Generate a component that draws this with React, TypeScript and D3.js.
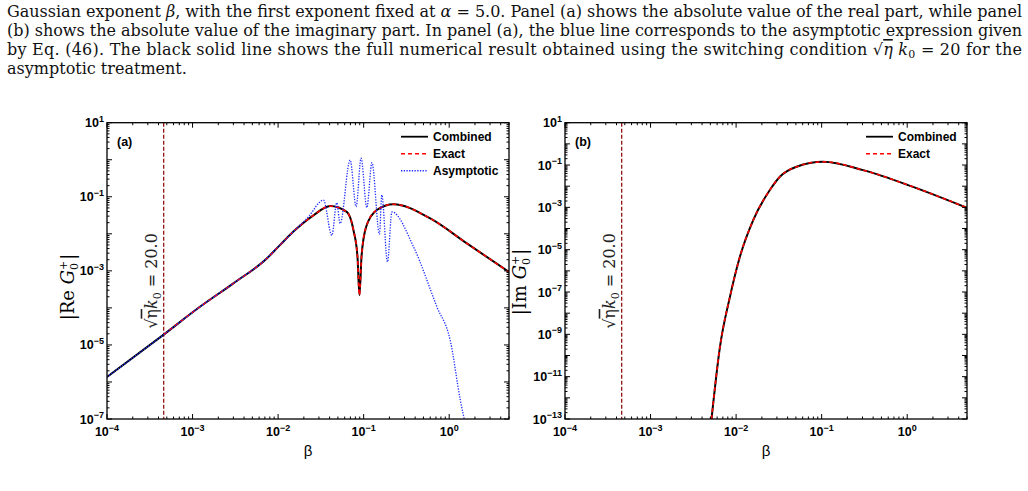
import React, { useEffect, useRef } from 'react';
import * as d3 from 'd3';

const W = 1028;
const H = 491;

// panel (a): |Re G0+| against beta
const betaRe = [1e-4, 4.6e-4, 1.22e-3, 3.0e-3, 7.38e-3, 1.05e-2, 1.51e-2, 2.59e-2, 4.07e-2, 6.35e-2, 7.6e-2, 8.47e-2, 8.93e-2, 9.44e-2, 0.107, 0.1426, 0.223, 0.6, 1.61, 5.0];
const reCombined = [1.36e-6, 1.9e-5, 1.07e-4, 4.6e-4, 2.16e-3, 4.95e-3, 1.15e-2, 3.16e-2, 5.6e-2, 3.9e-2, 1.26e-2, 2.4e-3, 2.2e-4, 2.4e-3, 1.55e-2, 4.4e-2, 6.3e-2, 2.6e-2, 5.5e-3, 9.3e-4];

const betaAsym = [1e-4, 4.6e-4, 1.22e-3, 3.0e-3, 7.38e-3, 1.05e-2, 1.51e-2, 2.24e-2, 3.39e-2, 4.25e-2, 4.85e-2, 5.31e-2, 6.95e-2, 8.17e-2, 9.33e-2, 0.109, 0.125, 0.153, 0.163, 0.19, 0.214, 0.382, 0.718, 1.03, 1.35, 1.6];
const reAsym = [1.36e-6, 1.9e-5, 1.07e-4, 4.6e-4, 2.16e-3, 4.95e-3, 1.15e-2, 2.8e-2, 8.1e-2, 9.1e-3, 6.9e-2, 1.9e-2, 0.98, 5.4e-2, 1.1, 5.1e-2, 0.83, 9.8e-3, 0.112, 1.74e-3, 3.9e-2, 4.5e-3, 1.07e-4, 1.3e-5, 3.2e-7, 5e-8];

// panel (b): |Im G0+| against beta
const betaIm = [5.16e-3, 6.47e-3, 8.47e-3, 1.107e-2, 1.585e-2, 2.48e-2, 3.25e-2, 5.09e-2, 0.104, 0.305, 1.17, 5.0];
const imCombined = [1e-13, 2.5e-10, 5.9e-8, 4.6e-6, 2.5e-4, 6.6e-3, 2.8e-2, 8.3e-2, 0.143, 5.75e-2, 9.3e-3, 9.5e-4];

// switching point sqrt(eta) k0 = 20
const switchBeta = 4.6e-4;

const xTickExps = [-4, -3, -2, -1, 0];
const yTickExpsRe = [1, -1, -3, -5, -7];
const yTickExpsIm = [1, -1, -3, -5, -7, -9, -11, -13];

const captionLines = [
  [['Gaussian exponent ', ''], ['β', 'i'], [', with the first exponent fixed at ', ''], ['α', 'i'], [' = 5.0.  Panel (a) shows the absolute value of the real part, while panel', '']],
  [['(b) shows the absolute value of the imaginary part.  In panel (a), the blue line corresponds to the asymptotic expression given', '']],
  [['by Eq. (46).  The black solid line shows the full numerical result obtained using the switching condition ', ''], ['√', ''], ['η', 'o'], [' ', ''], ['k', 'i'], ['0', 's'], [' = 20 for the', 'u']],
  [['asymptotic treatment.', '']],
];

const SANS = '"Liberation Sans", Arial, sans-serif';
const SERIF = '"DejaVu Serif", "Liberation Serif", serif';

const zip = (xs: number[], ys: number[]) => xs.map((x, i) => [x, ys[i]] as [number, number]);

function drawPanel(svg: any, p: any) {
  const x = d3.scaleLog().domain([1e-4, 5]).range([p.left, p.right]);
  const y = d3.scaleLog().domain(p.yDomain).range([p.bottom, p.top]);

  svg.append('defs').append('clipPath').attr('id', 'clip-' + p.key)
    .append('rect')
    .attr('x', p.left).attr('y', p.top)
    .attr('width', p.right - p.left).attr('height', p.bottom - p.top);

  const g = svg.append('g');

  // switching condition marker
  g.append('line')
    .attr('x1', x(switchBeta)).attr('x2', x(switchBeta))
    .attr('y1', p.top).attr('y2', p.bottom)
    .attr('stroke', '#8b0000').attr('stroke-width', 1.2)
    .attr('stroke-dasharray', '4,2');

  const lbl = g.append('text')
    .attr('transform', `translate(${x(switchBeta) - 7},${281}) rotate(-90)`)
    .attr('text-anchor', 'middle')
    .style('font-family', SERIF).style('font-size', '16px')
    .attr('fill', '#222');
  lbl.append('tspan').text('√');
  lbl.append('tspan').style('text-decoration', 'overline').text('η');
  lbl.append('tspan').style('font-style', 'italic').text('k');
  lbl.append('tspan').attr('dy', 4).style('font-size', '11px').text('0');
  lbl.append('tspan').attr('dy', -4).text(' = 20.0');

  const line = d3.line<[number, number]>()
    .x(d => x(d[0]))
    .y(d => y(d[1]))
    .curve(d3.curveMonotoneX);

  const curves = g.append('g').attr('clip-path', `url(#clip-${p.key})`);
  p.series.forEach((s: any) => {
    curves.append('path')
      .attr('d', line(s.points))
      .attr('fill', 'none')
      .attr('stroke', s.color)
      .attr('stroke-width', s.width)
      .attr('stroke-dasharray', s.dash || null);
  });

  // frame
  g.append('rect')
    .attr('x', p.left).attr('y', p.top)
    .attr('width', p.right - p.left).attr('height', p.bottom - p.top)
    .attr('fill', 'none').attr('stroke', '#000').attr('stroke-width', 1.3);

  // inward log ticks on all four sides
  const ticks = g.append('g').attr('stroke', '#000').attr('stroke-width', 1);
  const decadeTicks = (lo: number, hi: number, dom: number[]) => {
    const out: { v: number; major: boolean }[] = [];
    for (let e = lo; e <= hi; e++) {
      for (let k = 1; k <= 9; k++) {
        const v = k * Math.pow(10, e);
        if (v >= dom[0] * 0.999 && v <= dom[1] * 1.001) out.push({ v, major: k === 1 });
      }
    }
    return out;
  };
  decadeTicks(-4, 0, [1e-4, 5]).forEach(t => {
    const len = t.major ? 5 : 2.5;
    const px = x(t.v);
    ticks.append('line').attr('x1', px).attr('x2', px).attr('y1', p.bottom).attr('y2', p.bottom - len);
    ticks.append('line').attr('x1', px).attr('x2', px).attr('y1', p.top).attr('y2', p.top + len);
  });
  const ylo = Math.round(Math.log10(p.yDomain[0]));
  const yhi = Math.round(Math.log10(p.yDomain[1]));
  decadeTicks(ylo, yhi, p.yDomain).forEach(t => {
    const len = t.major ? 5 : 2.5;
    const py = y(t.v);
    ticks.append('line').attr('x1', p.left).attr('x2', p.left + len).attr('y1', py).attr('y2', py);
    ticks.append('line').attr('x1', p.right).attr('x2', p.right - len).attr('y1', py).attr('y2', py);
  });

  // tick labels: 10 with raised exponent
  const powLabel = (sel: any, e: number) => {
    sel.append('tspan').text('10');
    sel.append('tspan').attr('dy', -5.5).style('font-size', '9px').text(e < 0 ? '−' + Math.abs(e) : String(e));
  };
  xTickExps.forEach(e => {
    const t = g.append('text')
      .attr('x', x(Math.pow(10, e))).attr('y', p.bottom + 17)
      .attr('text-anchor', 'middle')
      .style('font-family', SANS).style('font-size', '12.5px').style('font-weight', 'bold');
    powLabel(t, e);
  });
  p.yTickExps.forEach((e: number) => {
    const t = g.append('text')
      .attr('x', p.left - 3).attr('y', y(Math.pow(10, e)) + 4.5)
      .attr('text-anchor', 'end')
      .style('font-family', SANS).style('font-size', '12.5px').style('font-weight', 'bold');
    powLabel(t, e);
  });

  // axis titles
  g.append('text')
    .attr('x', (p.left + p.right) / 2).attr('y', p.bottom + 37)
    .attr('text-anchor', 'middle')
    .style('font-family', SANS).style('font-size', '15px')
    .text('β');

  const yt = g.append('text')
    .attr('transform', `translate(${p.yLabelX},${p.yLabelY}) rotate(-90)`)
    .attr('text-anchor', 'middle')
    .style('font-family', SERIF).style('font-size', '18px');
  yt.append('tspan').text('|' + p.part + ' ');
  yt.append('tspan').style('font-style', 'italic').text('G');
  yt.append('tspan').attr('dy', 4).style('font-size', '11px').text('0');
  yt.append('tspan').attr('dx', -7).attr('dy', -11).style('font-size', '11px').text('+');
  yt.append('tspan').attr('dx', 1).attr('dy', 7).text('|');

  g.append('text')
    .attr('x', p.left + 10).attr('y', p.top + 23)
    .style('font-family', SANS).style('font-size', '12.5px').style('font-weight', 'bold')
    .text(p.tag);

  // legend
  p.legend.forEach((s: any, i: number) => {
    const ly = p.top + 14 + i * 17;
    g.append('line')
      .attr('x1', p.legendX).attr('x2', p.legendX + 27)
      .attr('y1', ly).attr('y2', ly)
      .attr('stroke', s.color).attr('stroke-width', s.dash ? 1.6 : 1.8)
      .attr('stroke-dasharray', s.dash || null);
    g.append('text')
      .attr('x', p.legendX + 32).attr('y', ly + 4.5)
      .style('font-family', SANS).style('font-size', '12px').style('font-weight', 'bold')
      .text(s.name);
  });
}

const App = () => {
  const ref = useRef<SVGSVGElement>(null);

  useEffect(() => {
    if (!ref.current) return;
    const svg = d3.select(ref.current);
    svg.selectAll('*').remove();

    // caption text above the figure
    captionLines.forEach((parts, i) => {
      const t = svg.append('text')
        .attr('x', 7).attr('y', 17 + i * 19)
        .style('font-family', SERIF).style('font-size', '16px')
        .attr('fill', '#111');
      if (i < 3) t.attr('textLength', 1015).attr('lengthAdjust', 'spacing');
      parts.forEach(([s, st]) => {
        const ts = t.append('tspan').text(s);
        if (st === 'i') ts.style('font-style', 'italic');
        if (st === 'o') ts.style('font-style', 'italic').style('text-decoration', 'overline');
        if (st === 's') ts.attr('dy', 3).style('font-size', '11px');
        if (st === 'u') ts.attr('dy', -3);
      });
    });

    const combinedStyle = { color: '#000', width: 2 };
    const exactStyle = { color: '#ff0000', width: 1.6, dash: '4,3' };
    const asymStyle = { color: '#1f2dff', width: 1.3, dash: '1.3,1.4' };

    const rePts = zip(betaRe, reCombined);
    drawPanel(svg, {
      key: 'a', tag: '(a)', part: 'Re',
      left: 107, right: 509, top: 122.7, bottom: 419,
      yDomain: [1e-7, 10], yTickExps: yTickExpsRe,
      yLabelX: 74, yLabelY: 287,
      legendX: 401,
      series: [
        { ...combinedStyle, points: rePts },
        { ...exactStyle, points: rePts.filter(d => d[0] >= switchBeta) },
        { ...asymStyle, points: zip(betaAsym, reAsym) },
      ],
      legend: [
        { ...combinedStyle, name: 'Combined' },
        { ...exactStyle, name: 'Exact' },
        { ...asymStyle, name: 'Asymptotic' },
      ],
    });

    const imPts = zip(betaIm, imCombined);
    drawPanel(svg, {
      key: 'b', tag: '(b)', part: 'Im',
      left: 565, right: 967, top: 122.7, bottom: 419,
      yDomain: [1e-13, 10], yTickExps: yTickExpsIm,
      yLabelX: 526, yLabelY: 282,
      legendX: 866,
      series: [
        { ...combinedStyle, points: imPts },
        { ...exactStyle, points: imPts },
      ],
      legend: [
        { ...combinedStyle, name: 'Combined' },
        { ...exactStyle, name: 'Exact' },
      ],
    });
  }, []);

  return (
    <svg
      ref={ref}
      width={W}
      height={H}
      style={{ position: 'fixed', left: 0, top: 0, background: '#fff' }}
    />
  );
};

export default App;
